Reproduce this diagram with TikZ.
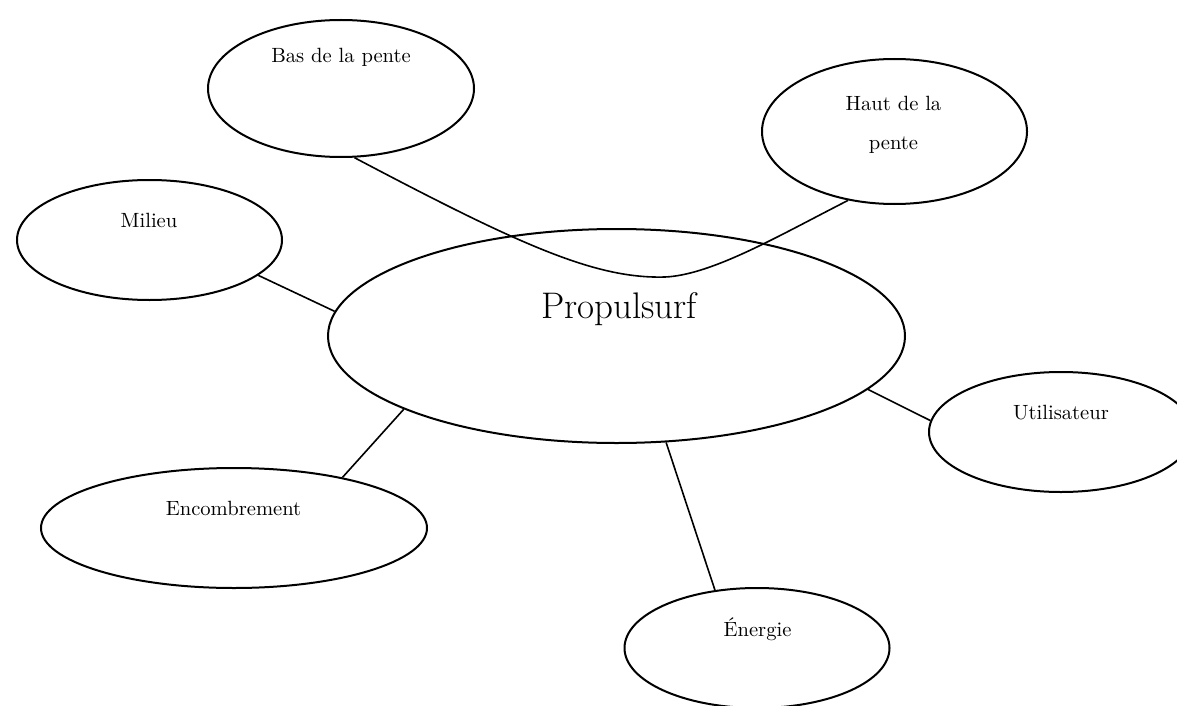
\documentclass[tikz,border=0pt]{standalone}
\usepackage{fontspec}
\usetikzlibrary{shapes.geometric}
\begin{document}
\begin{tikzpicture}[x=0.5pt,y=-0.5pt,
  bubble/.style={draw, ellipse, line width=1pt, inner sep=0pt},
  lbl/.style={anchor=base, inner sep=0pt, font=\fontsize{10.3}{12}\selectfont},
  biglbl/.style={anchor=base, inner sep=0pt, font=\fontsize{18.5}{22}\selectfont},
  link/.style={line width=0.8pt}]
\useasboundingbox (0,0) rectangle (1177,706);
% ellipses
\node[bubble, minimum width=288.5pt, minimum height=107pt] (prop) at (616.5,336) {};
\node[bubble, minimum width=133pt, minimum height=68.5pt] (bas) at (341,88.5) {};
\node[bubble, minimum width=132.5pt, minimum height=72.5pt] (haut) at (894.5,131.5) {};
\node[bubble, minimum width=132.5pt, minimum height=60pt] (milieu) at (149.5,240) {};
\node[bubble, minimum width=132pt, minimum height=60pt] (util) at (1061,432) {};
\node[bubble, minimum width=193pt, minimum height=60pt] (encomb) at (234,528) {};
\node[bubble, minimum width=132.5pt, minimum height=60pt] (energie) at (757,648) {};
% labels
\node[biglbl] (tprop) at (619,318) {Propulsurf};
\node[lbl] (tbas) at (341,63) {Bas de la pente};
\node[lbl] (thauta) at (893.5,111) {Haut de la};
\node[lbl] (thautb) at (893.5,149) {pente};
\node[lbl] (tmilieu) at (149,227) {Milieu};
\node[lbl] (tutil) at (1061,419) {Utilisateur};
\node[lbl] (tenergie) at (757.5,636) {Énergie};
\node[lbl] (tencomb) at (233.5,515) {Encombrement};
% connectors
\coordinate (dip) at (665,277);
\draw[link] (bas.-79.9) .. controls (520,245) and (595,279) .. (dip)
  .. controls (712,275) and (780,235) .. (haut.-124.7);
\draw[link] (milieu.-18.5) -- (prop.175.75);
\draw[link] (prop.199.37) -- (encomb.25.3);
\draw[link] (prop.-12.1) -- (util.175.2);
\draw[link] (prop.-65.8) -- (energie.126.3);
\end{tikzpicture}
\end{document}
